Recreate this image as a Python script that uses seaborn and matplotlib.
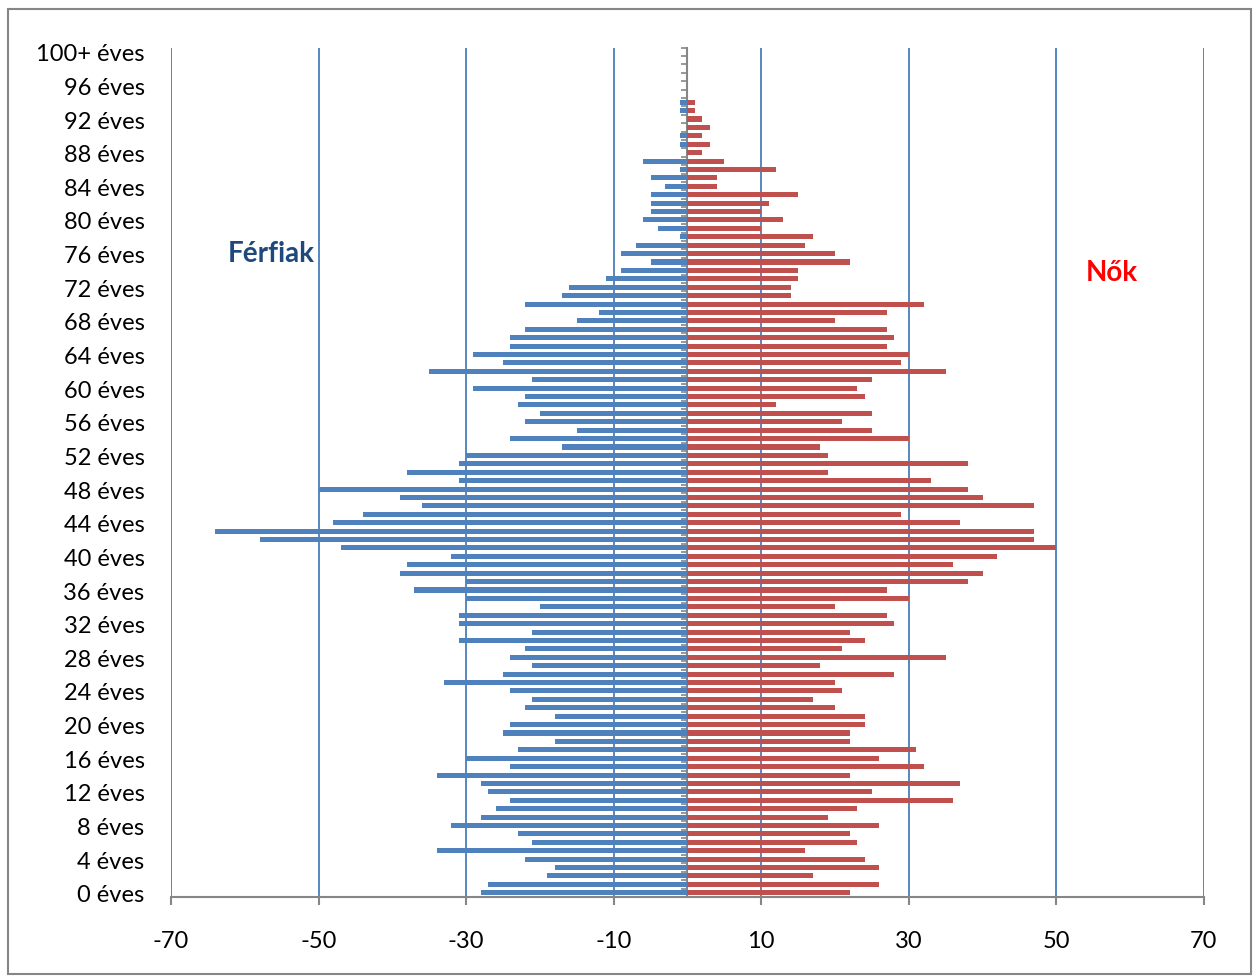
import numpy as np
import pandas as pd
import seaborn as sns
from matplotlib import pyplot as plt
from matplotlib.patches import Rectangle

# number of people by age (0 ... 99, 100+)
ages = [f"{i} éves" for i in range(100)] + ["100+ éves"]

ferfiak = [28, 27, 19, 18, 22, 34, 21, 23, 32, 28,
           26, 24, 27, 28, 34, 24, 30, 23, 18, 25,
           24, 18, 22, 21, 24, 33, 25, 21, 24, 22,
           31, 21, 31, 31, 20, 30, 37, 30, 39, 38,
           32, 47, 58, 64, 48, 44, 36, 39, 50, 31,
           38, 31, 30, 17, 24, 15, 22, 20, 23, 22,
           29, 21, 35, 25, 29, 24, 24, 22, 15, 12,
           22, 17, 16, 11, 9, 5, 9, 7, 1, 4,
           6, 5, 5, 5, 3, 5, 1, 6, 0, 1,
           1, 0, 0, 1, 1, 0, 0, 0, 0, 0,
           0]

nok = [22, 26, 17, 26, 24, 16, 23, 22, 26, 19,
       23, 36, 25, 37, 22, 32, 26, 31, 22, 22,
       24, 24, 20, 17, 21, 20, 28, 18, 35, 21,
       24, 22, 28, 27, 20, 30, 27, 38, 40, 36,
       42, 50, 47, 47, 37, 29, 47, 40, 38, 33,
       19, 38, 19, 18, 30, 25, 21, 25, 12, 24,
       23, 25, 35, 29, 30, 27, 28, 27, 20, 27,
       32, 14, 14, 15, 15, 22, 20, 16, 17, 10,
       13, 10, 11, 15, 4, 4, 12, 5, 2, 3,
       2, 3, 2, 1, 1, 0, 0, 0, 0, 0,
       0]

x_ticks = list(range(-70, 71, 20))

df = pd.DataFrame({"kor": ages, "ferfi": ferfiak, "no": nok})

plt.rcParams['font.family'] = ['Lato', 'DejaVu Sans']
plt.rcParams['axes.unicode_minus'] = False

fig = plt.figure(figsize=(12.58, 9.78), dpi=100)
ax = fig.add_axes([0.1359, 0.0818, 0.8211, 0.8686])

sns.barplot(x=-df["ferfi"], y=df["kor"], order=ages, color="#4F81BD",
            saturation=1, width=0.6, errorbar=None, ax=ax)
sns.barplot(x=df["no"], y=df["kor"], order=ages, color="#C0504D",
            saturation=1, width=0.6, errorbar=None, ax=ax)

ax.set_xlim(-70, 70)
ax.set_ylim(-0.5, 100.5)
ax.set_xlabel("")
ax.set_ylabel("")

ax.set_xticks(x_ticks)
ax.set_xticklabels([str(t) for t in x_ticks], fontsize=17)
ax.set_yticks(range(0, 101, 4))
ax.set_yticklabels(ages[::4], fontsize=17)

ax.grid(axis='x', color="#4A7EBB", linewidth=1.3)
ax.grid(axis='y', visible=False)
ax.set_axisbelow(True)

for s in ['top', 'right', 'left']:
    ax.spines[s].set_visible(False)
ax.spines['bottom'].set_color("#868686")
ax.spines['bottom'].set_linewidth(1.5)
ax.tick_params(axis='x', length=6, width=1.5, color="#868686", pad=18)
ax.tick_params(axis='y', length=0, pad=19)

# category axis at zero
sec = ax.secondary_yaxis(0.49999)
sec.spines['left'].set_color("#868686")
sec.spines['left'].set_linewidth(1.5)
sec.set_yticks(np.arange(-0.5, 101, 1))
sec.set_yticklabels([])
sec.tick_params(axis='y', length=4, width=1.2, color="#868686")

ax.text(-56.4, 76.1, "Férfiak", color="#1F497D", fontsize=20,
        fontweight='bold', ha='center', va='center')
ax.text(57.5, 73.8, "Nők", color="#FF0000", fontsize=20,
        fontweight='bold', ha='center', va='center')

fig.patches.append(Rectangle((7.5 / 1258, 1 - 975 / 978), 1243 / 1258, 965.5 / 978,
                             transform=fig.transFigure, fill=False,
                             edgecolor="#868686", linewidth=1.5))

plt.savefig("out.png", dpi=100)
